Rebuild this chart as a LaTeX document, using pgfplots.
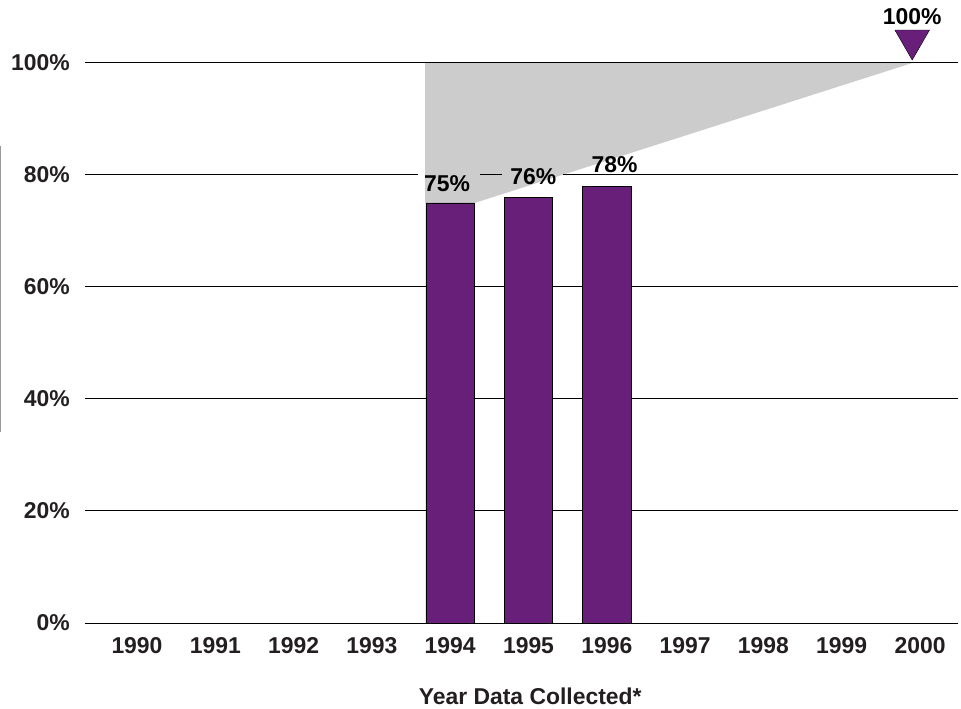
\documentclass[border=0pt]{standalone}
\usepackage{pgfplots}
\pgfplotsset{compat=1.18}
\usepackage{fontspec}
\setmainfont{Liberation Sans}
\definecolor{barpurple}{RGB}{104,31,122}
\definecolor{areagray}{RGB}{204,204,204}
\definecolor{txt}{RGB}{35,31,32}
\begin{document}
\begin{tikzpicture}
\begin{axis}[
  set layers,
  scale only axis, width=873bp, height=560bp,
  xmin=-0.664, xmax=10.485, ymin=0, ymax=100,
  clip=false,
  axis line style={draw=none},
  tick style={draw=none},
  xtick={0,1,2,3,4,5,6,7,8,9,10},
  xticklabels={1990,1991,1992,1993,1994,1995,1996,1997,1998,1999,2000},
  ytick={0,20,40,60,100},
  yticklabels={0\%,20\%,40\%,60\%,100\%},
  extra y ticks={80},
  extra y tick labels={80\%},
  extra y tick style={grid=none},
  ymajorgrids,
  major grid style={black, line width=1bp},
  ticklabel style={font=\fontsize{23}{27}\selectfont\bfseries, text=txt, inner sep=0pt},
  yticklabel style={anchor=east, xshift=-15bp},
  xticklabel style={anchor=north, yshift=-14bp},
  xlabel={Year Data Collected*},
  xlabel style={at={(axis description cs:0.51,0)}, anchor=north, yshift=-65bp, inner sep=0pt,
    font=\fontsize{23}{27}\selectfont\bfseries, text=txt},
]
% gray projection area
\addplot[fill=areagray, draw=none, on layer=axis background, forget plot]
  coordinates {(3.68,100) (3.68,75) (4.31,75) (9.9,100)} -- cycle;
% 80% gridline with gaps behind labels
\addplot[black, line width=1bp, forget plot] coordinates {(-0.664,80) (3.589,80)};
\addplot[black, line width=1bp, forget plot] coordinates {(4.381,80) (4.662,80)};
\addplot[black, line width=1bp, forget plot] coordinates {(5.441,80) (10.485,80)};
% bars
\addplot[ybar, bar width=0.62, bar shift=0pt, fill=barpurple, draw=black, line width=0.8bp]
  coordinates {(4,75) (5,76) (6,78)};
% target marker
\addplot[only marks, mark=triangle*, mark size=20bp,
  mark options={rotate=180, fill=barpurple, draw=none}]
  coordinates {(9.9,104.1)};
% value labels
\addplot[draw=none, mark=none, nodes near coords, point meta=explicit symbolic,
  every node near coord/.append style={anchor=south, inner sep=0pt,
    font=\fontsize{23}{27}\selectfont\bfseries, text=black}]
  coordinates {(3.96,76.96) [75\%] (5.06,78.2) [76\%] (6.10,80.36) [78\%] (9.9,106.8) [100\%]};
\draw[gray!80, line width=1bp] ([xshift=-84bp]axis cs:-0.664,85.2) -- ([xshift=-84bp]axis cs:-0.664,34.1);
\end{axis}
\pgfresetboundingbox
\path[use as bounding box] ([xshift=-85bp,yshift=-86bp]current axis.south west) rectangle ([xshift=3bp,yshift=63bp]current axis.north east);
\end{tikzpicture}
\end{document}
